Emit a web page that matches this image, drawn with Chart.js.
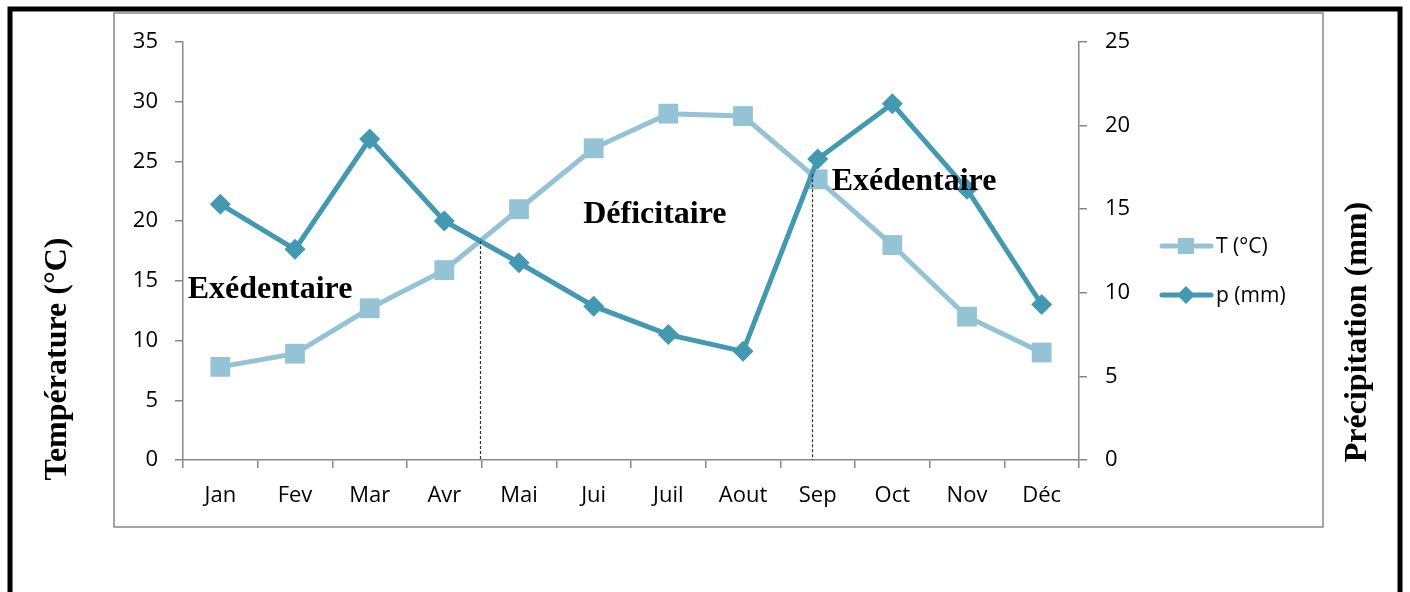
<!DOCTYPE html>
<html>
<head>
<meta charset="utf-8">
<title>Température et précipitations mensuelles</title>
<script src="https://cdn.jsdelivr.net/npm/chart.js@4.4.1/dist/chart.umd.min.js"></script>
<style>
  html, body { margin: 0; padding: 0; background: #ffffff; }
  canvas { display: block; }
</style>
</head>
<body>
<canvas id="chart" width="1410" height="592"></canvas>
<script>
// Monthly values
const months = ['Jan', 'Fev', 'Mar', 'Avr', 'Mai', 'Jui', 'Juil', 'Aout', 'Sep', 'Oct', 'Nov', 'Déc'];
const temperature = [7.8, 8.9, 12.7, 15.9, 21.0, 26.1, 29.0, 28.8, 23.5, 18.0, 12.0, 9.0];
const precipitation = [15.3, 12.6, 19.2, 14.3, 11.8, 9.2, 7.5, 6.5, 18.0, 21.3, 16.2, 9.3];

// Axis ranges
const tempTicks = [0, 5, 10, 15, 20, 25, 30, 35];
const precipTicks = [0, 5, 10, 15, 20, 25];

// Series names and axis titles
const seriesNames = ['T (°C)', 'p (mm)'];
const axisTitles = ['Température (°C)', 'Précipitation (mm)'];

// Zone names and the month segments where the two curves cross
const zoneNames = ['Exédentaire', 'Déficitaire', 'Exédentaire'];
const crossingSegments = [3, 7];

const colT = '#93c3d5';
const colP = '#4399b1';
const axisGray = '#888888';
const tickFont = { family: 'Open Sans', size: 22 };
const serif = '"Liberation Serif", "Times New Roman", serif';

// Frame, titles, legend and annotations drawn on the canvas
const decorations = {
  id: 'decorations',
  beforeDraw(chart) {
    const ctx = chart.ctx;
    ctx.save();
    ctx.fillStyle = '#ffffff';
    ctx.fillRect(0, 0, chart.width, chart.height);
    // outer black frame
    ctx.strokeStyle = '#000000';
    ctx.lineWidth = 5;
    ctx.strokeRect(10, 9, 1390, 620);
    // chart box
    ctx.strokeStyle = axisGray;
    ctx.lineWidth = 1.5;
    ctx.strokeRect(114, 13, 1209, 514);
    ctx.restore();
  },
  afterDatasetsDraw(chart) {
    const ctx = chart.ctx;
    const xs = chart.scales.x;
    const ys = chart.scales.y;
    const area = chart.chartArea;
    const mT = chart.getDatasetMeta(1).data;
    const mP = chart.getDatasetMeta(0).data;
    ctx.save();

    // dashed dividers from each crossing point down to the axis
    ctx.strokeStyle = '#333333';
    ctx.lineWidth = 1.2;
    ctx.setLineDash([3, 2]);
    crossingSegments.forEach(i => {
      const a1 = mT[i], a2 = mT[i + 1], b1 = mP[i], b2 = mP[i + 1];
      const da = a2.y - a1.y, db = b2.y - b1.y;
      const t = (b1.y - a1.y) / (da - db);
      const x = a1.x + t * (a2.x - a1.x);
      const y = a1.y + t * da;
      ctx.beginPath();
      ctx.moveTo(Math.round(x) + 0.5, y);
      ctx.lineTo(Math.round(x) + 0.5, area.bottom);
      ctx.stroke();
    });
    ctx.setLineDash([]);

    // zone names
    const zonePos = [[0.665, 13.56], [5.82, 19.87], [9.29, 22.6]];
    ctx.fillStyle = '#000000';
    ctx.font = 'bold 32px ' + serif;
    ctx.textAlign = 'center';
    ctx.textBaseline = 'alphabetic';
    zoneNames.forEach((name, k) => {
      ctx.fillText(name, xs.getPixelForValue(zonePos[k][0]), ys.getPixelForValue(zonePos[k][1]));
    });

    // axis titles
    ctx.font = 'bold 32px ' + serif;
    ctx.textBaseline = 'middle';
    ctx.save();
    ctx.translate(58, 359);
    ctx.rotate(-Math.PI / 2);
    ctx.fillText(axisTitles[0], 0, 0);
    ctx.restore();
    ctx.save();
    ctx.translate(1358, 332);
    ctx.rotate(-Math.PI / 2);
    ctx.fillText(axisTitles[1], 0, 0);
    ctx.restore();

    // legend
    const items = [
      { name: seriesNames[0], color: colT, y: 246, marker: 'square' },
      { name: seriesNames[1], color: colP, y: 295, marker: 'diamond' }
    ];
    items.forEach(it => {
      ctx.strokeStyle = it.color;
      ctx.lineWidth = 5;
      ctx.lineCap = 'round';
      ctx.beginPath();
      ctx.moveTo(1162, it.y);
      ctx.lineTo(1211, it.y);
      ctx.stroke();
      ctx.fillStyle = it.color;
      const cx = 1186;
      if (it.marker === 'square') {
        ctx.fillRect(cx - 8, it.y - 8, 16, 16);
      } else {
        ctx.beginPath();
        ctx.moveTo(cx, it.y - 9);
        ctx.lineTo(cx + 9, it.y);
        ctx.lineTo(cx, it.y + 9);
        ctx.lineTo(cx - 9, it.y);
        ctx.closePath();
        ctx.fill();
      }
      ctx.fillStyle = '#000000';
      ctx.font = '21px "Open Sans", sans-serif';
      ctx.textAlign = 'left';
      ctx.textBaseline = 'middle';
      ctx.fillText(it.name, 1216, it.y + 1);
    });
    ctx.restore();
  }
};

new Chart(document.getElementById('chart'), {
  type: 'line',
  data: {
    labels: months,
    datasets: [
      {
        label: seriesNames[1],
        data: precipitation,
        yAxisID: 'y1',
        borderColor: colP,
        backgroundColor: colP,
        borderWidth: 5,
        pointStyle: 'rectRot',
        pointRadius: 10.5,
        pointBorderWidth: 0,
        tension: 0,
        order: 0
      },
      {
        label: seriesNames[0],
        data: temperature,
        yAxisID: 'y',
        borderColor: colT,
        backgroundColor: colT,
        borderWidth: 5,
        pointStyle: 'rect',
        pointRadius: 14,
        pointBorderWidth: 0,
        tension: 0,
        order: 1
      }
    ]
  },
  options: {
    responsive: false,
    animation: false,
    devicePixelRatio: 1,
    layout: { padding: { left: 114, right: 87, top: 42, bottom: 72 } },
    plugins: { legend: { display: false }, tooltip: { enabled: false } },
    scales: {
      x: {
        offset: true,
        grid: { offset: true, drawOnChartArea: false, drawTicks: true, tickLength: 8, color: axisGray, lineWidth: 1.5 },
        border: { color: axisGray, width: 1.5 },
        ticks: { color: '#000000', font: tickFont, padding: 15, maxRotation: 0, autoSkip: false },
        afterFit(s) { s.height = 60; }
      },
      y: {
        position: 'left',
        min: tempTicks[0],
        max: tempTicks[tempTicks.length - 1],
        afterBuildTicks(s) { s.ticks = tempTicks.map(v => ({ value: v })); },
        grid: { drawOnChartArea: false, drawTicks: true, tickLength: 8, color: axisGray, lineWidth: 1.5 },
        border: { color: axisGray, width: 1.5 },
        ticks: { color: '#000000', font: tickFont, padding: 17 },
        afterFit(s) { s.width = 69; }
      },
      y1: {
        position: 'right',
        min: precipTicks[0],
        max: precipTicks[precipTicks.length - 1],
        afterBuildTicks(s) { s.ticks = precipTicks.map(v => ({ value: v })); },
        grid: { drawOnChartArea: false, drawTicks: true, tickLength: 8, color: axisGray, lineWidth: 1.5 },
        border: { color: axisGray, width: 1.5 },
        ticks: { color: '#000000', font: tickFont, padding: 18 },
        afterFit(s) { s.width = 244; }
      }
    }
  },
  plugins: [decorations]
});
</script>
</body>
</html>
